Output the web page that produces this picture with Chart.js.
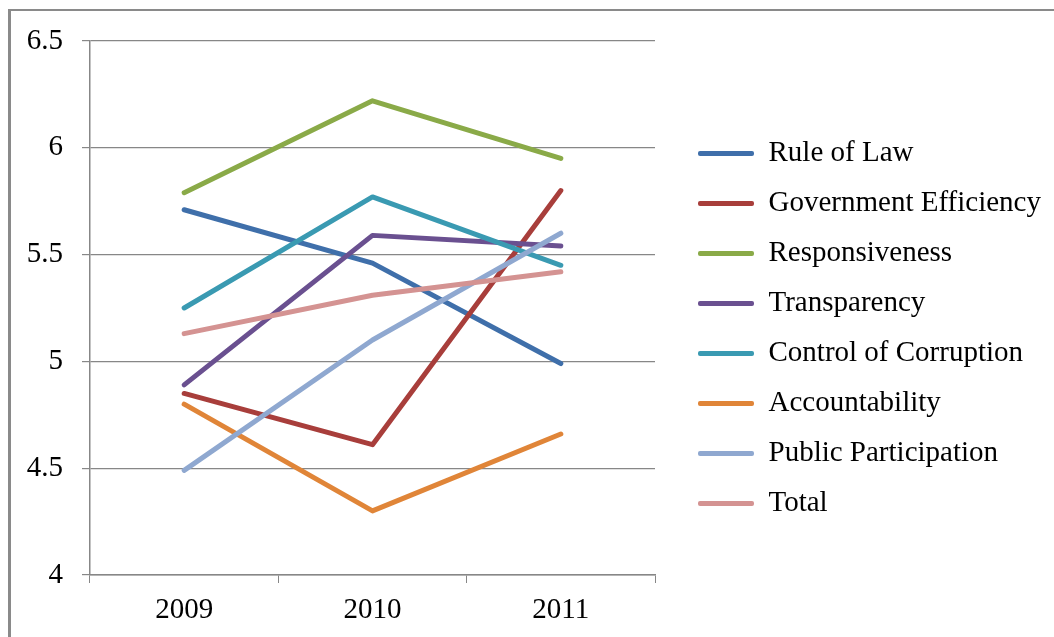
<!DOCTYPE html>
<html lang="en">
<head>
    <meta charset="UTF-8">
    <title>Governance Indicators 2009-2011</title>
    <script src="https://cdn.jsdelivr.net/npm/chart.js"></script>
    <style>
        html, body { margin: 0; padding: 0; background: #fff; }
        #wrap { position: absolute; left: 0; top: 0; width: 1054px; height: 637px; }
    </style>
</head>
<body>
<div id="wrap"><canvas id="chart"></canvas></div>
<script>
    var years = ["2009", "2010", "2011"];
    var seriesNames = ["Rule of Law", "Government Efficiency", "Responsiveness", "Transparency",
        "Control of Corruption", "Accountability", "Public Participation", "Total"];
    var ruleOfLaw = [5.71, 5.46, 4.99];
    var govEfficiency = [4.85, 4.61, 5.80];
    var responsiveness = [5.79, 6.22, 5.95];
    var transparency = [4.89, 5.59, 5.54];
    var controlCorruption = [5.25, 5.77, 5.45];
    var accountability = [4.80, 4.30, 4.66];
    var publicParticipation = [4.49, 5.10, 5.60];
    var total = [5.13, 5.31, 5.42];

    var allValues = [ruleOfLaw, govEfficiency, responsiveness, transparency,
        controlCorruption, accountability, publicParticipation, total];
    var colors = ["#3F6FAA", "#A83E3B", "#8AAA48", "#6A5090", "#3A9AB2", "#E08538", "#8FA8D0", "#D49392"];

    var fontFamily = "'Liberation Serif', 'Times New Roman', serif";
    var gridColor = "#878787";

    var datasets = [];
    for (var i = 0; i < seriesNames.length; i++) {
        datasets.push({
            label: seriesNames[i],
            data: allValues[i],
            borderColor: colors[i],
            backgroundColor: colors[i],
            borderWidth: 5,
            borderJoinStyle: "round",
            borderCapStyle: "round",
            pointRadius: 0,
            tension: 0,
            order: -i
        });
    }

    // frame lines at the top and left, and legend placement
    var framePlugin = {
        id: "frame",
        beforeInit: function(chart) {
            var fit = chart.legend.fit;
            chart.legend.fit = function() {
                fit.call(this);
                this.width = 399;
            };
        },
        afterLayout: function(chart) {
            var lg = chart.legend;
            lg.left += 22; lg.right += 22;
            lg.top += 77; lg.bottom += 77;
        },
        afterDraw: function(chart) {
            var ctx = chart.ctx;
            ctx.save();
            ctx.strokeStyle = "#8a8a8a";
            ctx.lineWidth = 3;
            ctx.beginPath();
            ctx.moveTo(9.5, 9);
            ctx.lineTo(9.5, 637);
            ctx.stroke();
            ctx.lineWidth = 2;
            ctx.beginPath();
            ctx.moveTo(8, 10);
            ctx.lineTo(1054, 10);
            ctx.stroke();
            ctx.restore();
        }
    };

    new Chart(document.getElementById("chart"), {
        type: "line",
        data: { labels: years, datasets: datasets },
        options: {
            responsive: true,
            maintainAspectRatio: false,
            animation: false,
            layout: { padding: { top: 41, left: 0, right: 0, bottom: 0 } },
            plugins: {
                tooltip: { enabled: false },
                legend: {
                    position: "right",
                    align: "start",
                    labels: {
                        color: "#000",
                        font: { family: fontFamily, size: 29 },
                        boxWidth: 56,
                        boxHeight: 5,
                        padding: 21,
                        useBorderRadius: true,
                        borderRadius: 2,
                        generateLabels: function(chart) {
                            var items = Chart.defaults.plugins.legend.labels.generateLabels(chart);
                            items.sort(function(a, b) { return a.datasetIndex - b.datasetIndex; });
                            items.forEach(function(it) { it.lineWidth = 0; });
                            return items;
                        }
                    }
                }
            },
            scales: {
                x: {
                    offset: true,
                    afterFit: function(scale) { scale.height = 62; },
                    grid: {
                        offset: true,
                        drawOnChartArea: false,
                        color: gridColor,
                        tickLength: 8
                    },
                    border: { color: gridColor, width: 1.5 },
                    ticks: {
                        color: "#000",
                        padding: 10,
                        font: { family: fontFamily, size: 29 }
                    }
                },
                y: {
                    min: 4,
                    max: 6.5,
                    afterFit: function(scale) { scale.width = 90; },
                    grid: { color: gridColor, lineWidth: 1.2, tickLength: 8 },
                    border: { color: gridColor, width: 1.5 },
                    ticks: {
                        stepSize: 0.5,
                        color: "#000",
                        padding: 19,
                        font: { family: fontFamily, size: 29 },
                        callback: function(value) { return String(value); }
                    }
                }
            }
        },
        plugins: [framePlugin]
    });
</script>
</body>
</html>
